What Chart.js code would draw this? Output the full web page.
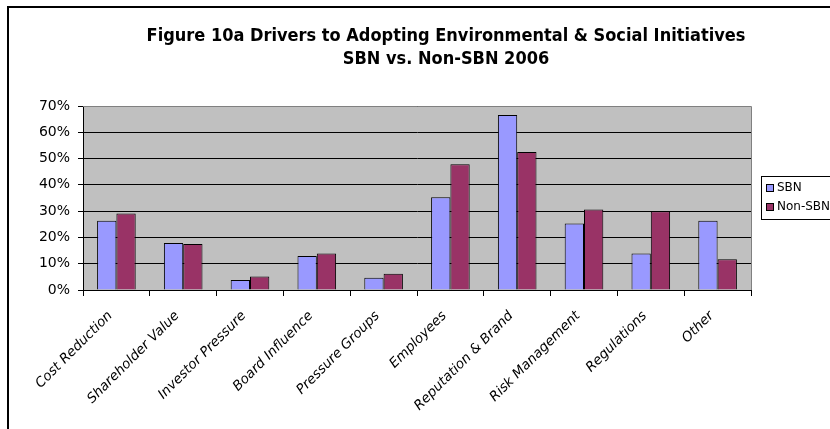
<!DOCTYPE html>
<html>
<head>
<meta charset="utf-8">
<script src="https://cdn.jsdelivr.net/npm/chart.js@4/dist/chart.umd.min.js"></script>
<style>
  html, body { margin: 0; padding: 0; background: #ffffff; }
  #wrap { position: relative; width: 830px; height: 429px; }
</style>
</head>
<body>
<div id="wrap"><canvas id="c" width="830" height="429"></canvas></div>
<script>
const titleLines = ["Figure 10a Drivers to Adopting Environmental & Social Initiatives", "SBN vs. Non-SBN 2006"];
const categories = ["Cost Reduction", "Shareholder Value", "Investor Pressure", "Board Influence", "Pressure Groups", "Employees", "Reputation & Brand", "Risk Management", "Regulations", "Other"];
const seriesNames = ["SBN", "Non-SBN"];
const sbnValues = [26.3, 17.9, 3.8, 12.9, 4.7, 35.3, 66.6, 25.3, 13.9, 26.3];
const nonSbnValues = [29.1, 17.5, 5.1, 13.9, 6.2, 47.8, 52.5, 30.6, 30.0, 11.7];
const yTicks = [0, 10, 20, 30, 40, 50, 60, 70];

const chartDecor = {
  id: 'chartDecor',
  beforeDraw(chart) {
    const ctx = chart.ctx, a = chart.chartArea;
    ctx.save();
    ctx.fillStyle = '#ffffff';
    ctx.fillRect(0, 0, chart.width, chart.height);
    ctx.strokeStyle = '#000000';
    ctx.lineWidth = 2;
    ctx.strokeRect(8, 7, 900, 500);
    ctx.fillStyle = '#C0C0C0';
    ctx.fillRect(a.left, a.top, a.right - a.left, a.bottom - a.top);
    ctx.restore();
  },
  afterDraw(chart) {
    const ctx = chart.ctx, a = chart.chartArea;
    ctx.save();
    ctx.strokeStyle = '#808080';
    ctx.lineWidth = 1;
    ctx.beginPath();
    ctx.moveTo(a.left, a.top + 0.5);
    ctx.lineTo(a.right + 0.5, a.top + 0.5);
    ctx.lineTo(a.right + 0.5, a.bottom);
    ctx.stroke();
    ctx.fillStyle = '#000000';
    ctx.font = 'bold 18px "DejaVu Sans Condensed", "DejaVu Sans", sans-serif';
    ctx.textAlign = 'center';
    ctx.textBaseline = 'middle';
    ctx.fillText(titleLines[0], 446, 36);
    ctx.fillText(titleLines[1], 446, 59);
    const lx = 761.5, ly = 176.5;
    ctx.fillStyle = '#ffffff';
    ctx.fillRect(lx, ly, 90, 43);
    ctx.strokeStyle = '#000000';
    ctx.lineWidth = 1;
    ctx.strokeRect(lx, ly, 90, 43);
    ctx.font = '12px "DejaVu Sans", sans-serif';
    ctx.textAlign = 'left';
    chart.data.datasets.forEach((ds, i) => {
      const y = 188 + i * 19;
      ctx.fillStyle = ds.backgroundColor;
      ctx.fillRect(766.5, y - 3.5, 7, 7);
      ctx.strokeStyle = '#000000';
      ctx.strokeRect(766.5, y - 3.5, 7, 7);
      ctx.fillStyle = '#000000';
      ctx.fillText(ds.label, 777, y);
    });
    ctx.restore();
  }
};

new Chart(document.getElementById('c'), {
  type: 'bar',
  data: {
    labels: categories,
    datasets: [
      { label: seriesNames[0], data: sbnValues, backgroundColor: '#9999FF', borderColor: '#000000', borderWidth: 1, categoryPercentage: 0.578, barPercentage: 1.0 },
      { label: seriesNames[1], data: nonSbnValues, backgroundColor: '#993366', borderColor: '#000000', borderWidth: 1, categoryPercentage: 0.578, barPercentage: 1.0 }
    ]
  },
  options: {
    responsive: false,
    animation: false,
    devicePixelRatio: 1,
    layout: { padding: { top: 106, right: 79, bottom: 0, left: 0 } },
    plugins: { legend: { display: false }, title: { display: false }, tooltip: { enabled: false } },
    scales: {
      y: {
        min: 0, max: 70,
        afterFit(scale) { scale.width = 83; },
        afterBuildTicks(scale) { scale.ticks = yTicks.map(v => ({ value: v })); },
        ticks: {
          color: '#000000',
          font: { family: '"DejaVu Sans", sans-serif', size: 14 },
          padding: 8,
          callback: v => v + '%'
        },
        grid: { color: '#000000', lineWidth: 1, tickLength: 5, tickColor: '#000000' },
        border: { color: '#000000', width: 1 }
      },
      x: {
        offset: true,
        afterFit(scale) { scale.height = 139; },
        ticks: {
          color: '#000000',
          maxRotation: 45, minRotation: 45,
          autoSkip: false,
          padding: 12,
          labelOffset: -6,
          font: { family: '"DejaVu Sans", sans-serif', size: 13.5, style: 'italic' }
        },
        grid: { drawOnChartArea: false, offset: true, tickLength: 6, tickColor: '#000000' },
        border: { color: '#000000', width: 1 }
      }
    }
  },
  plugins: [chartDecor]
});
</script>
</body>
</html>
